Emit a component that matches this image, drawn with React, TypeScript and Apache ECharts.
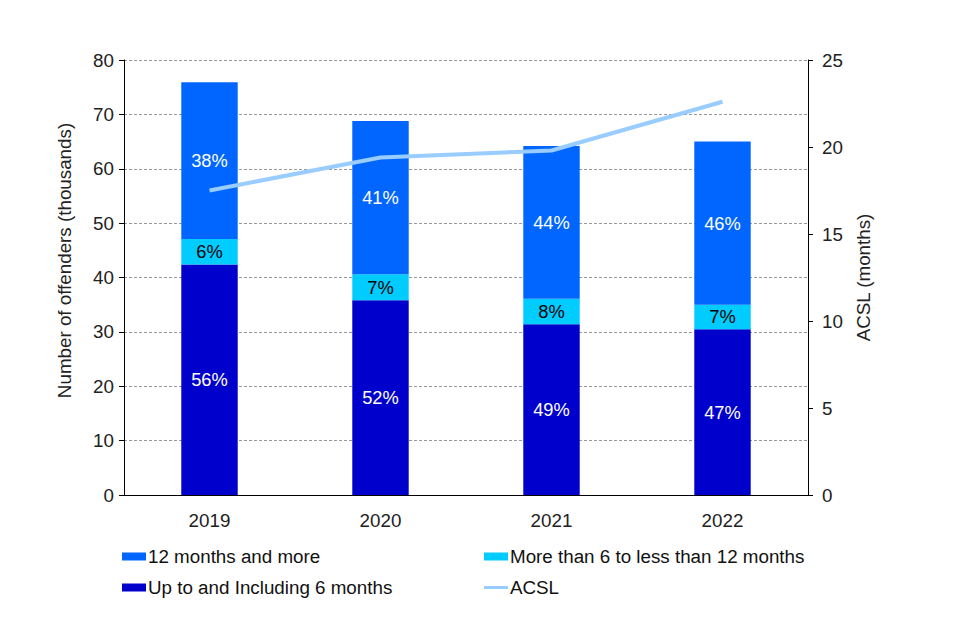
import React, { useEffect, useRef } from "react";
import * as echarts from "echarts";

const years = ["2019", "2020", "2021", "2022"];
const upTo6 = [42.4, 35.8, 31.4, 30.5];
const sixTo12 = [4.7, 4.8, 4.7, 4.5];
const twelvePlus = [28.8, 28.2, 28.1, 30.0];
const pctUpTo6 = ["56%", "52%", "49%", "47%"];
const pctSixTo12 = ["6%", "7%", "8%", "7%"];
const pctTwelvePlus = ["38%", "41%", "44%", "46%"];
const acsl = [17.5, 19.4, 19.8, 22.6];
const leftTicks = { min: 0, max: 80, interval: 10 };
const rightTicks = { min: 0, max: 25, interval: 5 };

const FONT = "Liberation Sans, Arial, sans-serif";
const FS = 18.8;

export default function App() {
  const ref = useRef<HTMLDivElement>(null);
  useEffect(() => {
    document.body.style.margin = "0";
    const chart = echarts.init(ref.current!, undefined, { renderer: "svg" });
    const labelFor = (arr: string[], color: string) => ({
      show: true,
      position: "inside",
      color,
      fontSize: 18.3,
      fontFamily: FONT,
      formatter: (p: any) => arr[p.dataIndex],
    });
    const legendBase = {
      orient: "horizontal",
      itemGap: 0,
      itemWidth: 24,
      itemHeight: 8,
      textStyle: { fontSize: FS, fontFamily: FONT, color: "#111", padding: [0, 0, 0, -3] },
      selectedMode: false,
      padding: 0,
    };
    chart.setOption({
      animation: false,
      textStyle: { fontFamily: FONT },
      grid: { left: 124, right: 152, top: 60, bottom: 145 },
      legend: [
        { ...legendBase, left: 122, top: 547, data: [{ name: "12 months and more", icon: "rect" }] },
        { ...legendBase, left: 484, top: 547, data: [{ name: "More than 6 to less than 12 months", icon: "rect" }] },
        { ...legendBase, left: 122, top: 578, data: [{ name: "Up to and Including 6 months", icon: "rect" }] },
        { ...legendBase, left: 484, top: 578, itemHeight: 3, data: [{ name: "ACSL", icon: "rect" }] },
      ],
      xAxis: {
        type: "category",
        data: years,
        axisLine: { lineStyle: { color: "#000", width: 1 } },
        axisTick: { show: false },
        axisLabel: { fontSize: FS, color: "#222", margin: 16, fontFamily: FONT },
      },
      yAxis: [
        {
          type: "value",
          ...leftTicks,
          name: "Number of offenders (thousands)",
          nameLocation: "middle",
          nameGap: 50,
          nameTextStyle: { fontSize: FS, color: "#222", fontFamily: FONT, padding: [0, 0, 0, 34] },
          axisLine: { show: true, lineStyle: { color: "#000" } },
          axisTick: { show: true, length: 5, lineStyle: { color: "#000" } },
          axisLabel: { fontSize: FS, color: "#222", margin: 10, fontFamily: FONT },
          splitLine: { show: true, lineStyle: { color: "#999", type: [3, 2], width: 1 } },
        },
        {
          type: "value",
          ...rightTicks,
          position: "right",
          name: "ACSL (months)",
          nameLocation: "middle",
          nameGap: 46,
          nameTextStyle: { fontSize: FS, color: "#222", fontFamily: FONT },
          axisLine: { show: true, lineStyle: { color: "#000" } },
          axisTick: { show: true, length: 5, lineStyle: { color: "#000" } },
          axisLabel: { fontSize: FS, color: "#222", margin: 14, fontFamily: FONT },
          splitLine: { show: false },
        },
      ],
      series: [
        {
          name: "Up to and Including 6 months",
          type: "bar",
          stack: "t",
          barWidth: "33%",
          data: upTo6,
          itemStyle: { color: "#0000CC" },
          label: labelFor(pctUpTo6, "#fff"),
        },
        {
          name: "More than 6 to less than 12 months",
          type: "bar",
          stack: "t",
          data: sixTo12,
          itemStyle: { color: "#00CCFF" },
          label: labelFor(pctSixTo12, "#000"),
        },
        {
          name: "12 months and more",
          type: "bar",
          stack: "t",
          data: twelvePlus,
          itemStyle: { color: "#0066FF" },
          label: labelFor(pctTwelvePlus, "#fff"),
        },
        {
          name: "ACSL",
          type: "line",
          yAxisIndex: 1,
          data: acsl,
          symbol: "none",
          lineStyle: { color: "#99CCFF", width: 4 },
          itemStyle: { color: "#99CCFF" },
          z: 5,
        },
      ],
    });
    return () => chart.dispose();
  }, []);
  return <div ref={ref} style={{ width: 960, height: 640 }} />;
}
